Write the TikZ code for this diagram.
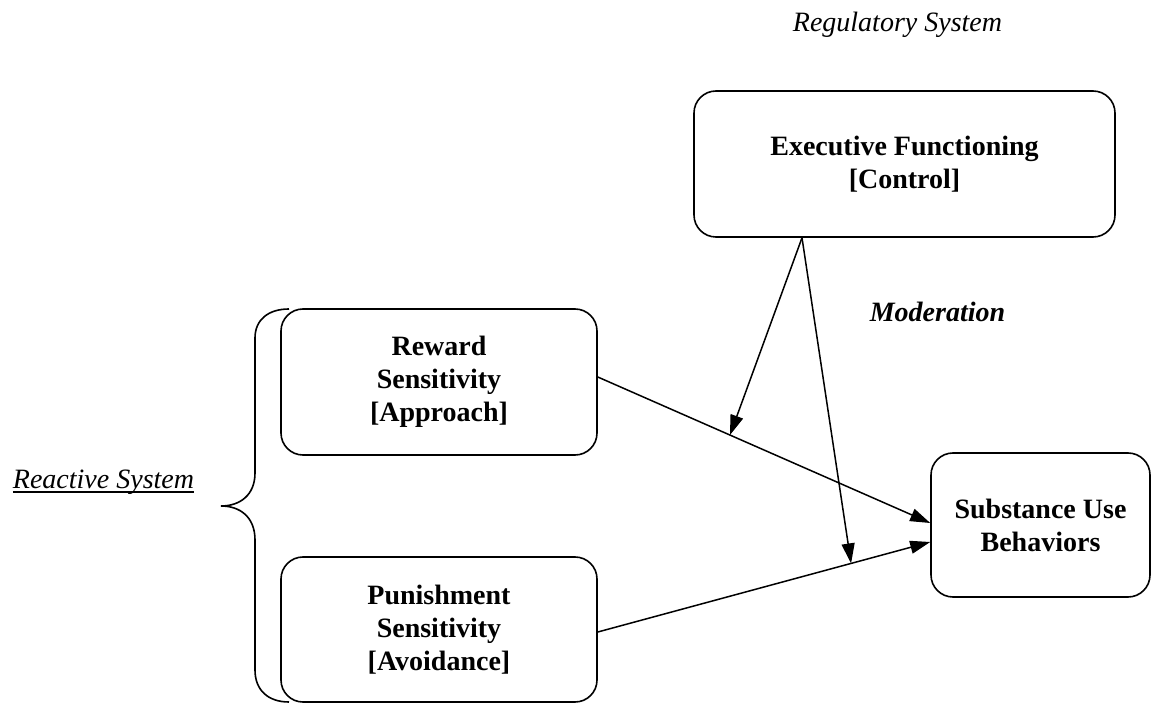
\documentclass[tikz,border=0pt]{standalone}
\usepackage{fontspec}
\setmainfont{Liberation Serif}
\usetikzlibrary{arrows.meta,calc}
\newcommand\myul[1]{\setbox0\hbox{#1}\rlap{\rule[-4.5pt]{\wd0}{1.2pt}}\box0}
\tikzset{
  box/.style={draw, line width=1.6pt, rounded corners=22pt, align=center,
    font=\fontsize{28}{33}\selectfont\bfseries, inner sep=0pt},
  arr/.style={line width=1.5pt, -{Triangle[length=20pt,width=13pt]}},
  lbl/.style={font=\fontsize{28}{33}\selectfont, inner sep=0pt, anchor=base}
}
\begin{document}
\begin{tikzpicture}[x=1pt,y=-1pt]
\useasboundingbox (0,0) rectangle (1152,703);
\node[box, minimum width=421pt, minimum height=146pt] (exec) at (904.5,164) {Executive Functioning\\{}{[Control]}};
\node[box, minimum width=316pt, minimum height=146pt] (reward) at (439,382) {Reward\\Sensitivity\\{}{[Approach]}};
\node[box, minimum width=316pt, minimum height=145pt] (punish) at (439,629.5) {Punishment\\Sensitivity\\{}{[Avoidance]}};
\node[box, minimum width=219pt, minimum height=144pt] (subst) at (1040.5,525) {Substance Use\\Behaviors};

\node[lbl] (reg) at (897.5,32) {\itshape Regulatory System};
\node[lbl] (mod) at (937.5,322) {\bfseries\itshape Moderation};
\node[lbl] (reac) at (103.5,488) {\myul{\itshape Reactive System}};

\coordinate (rs) at ([yshift=5pt]reward.east);
\coordinate (rt) at ([yshift=2pt]subst.west);
\coordinate (ps) at ([yshift=-2.5pt]punish.east);
\coordinate (pt) at ([yshift=-17pt]subst.west);
\coordinate (es) at ([xshift=-102.5pt]exec.south);
\coordinate (m1) at ($(rs)!0.3976!(rt)$);
\coordinate (m2) at ($(ps)!0.762!(pt)$);

\draw[arr] (rs) -- (rt);
\draw[arr] (ps) -- (pt);
\draw[arr] (es) -- (m1);
\draw[arr] (es) -- (m2);

\draw[line width=1.6pt] (289,309) .. controls (268,309) and (255,320) .. (255,338)
  -- (255,473) .. controls (255,495) and (240,506) .. (221,506)
  .. controls (240,506) and (255,517) .. (255,540)
  -- (255,670) .. controls (255,690) and (268,702) .. (289,702);
\end{tikzpicture}
\end{document}
